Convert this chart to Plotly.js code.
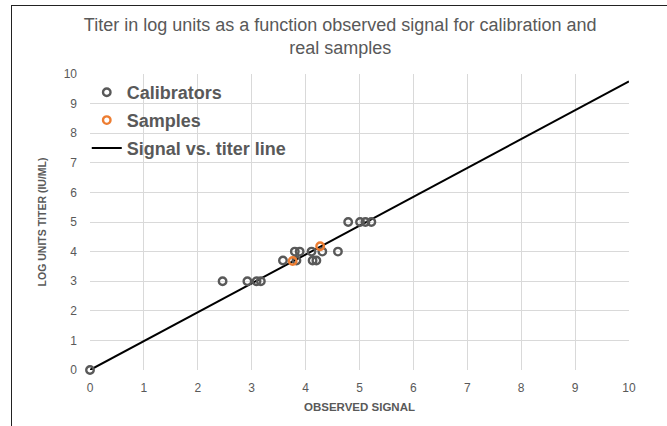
<!DOCTYPE html>
<html>
<head>
<meta charset="utf-8">
<script src="https://cdn.plot.ly/plotly-3.0.1.min.js"></script>
<style>
  html, body { margin: 0; padding: 0; background: #fff; }
  #wrap { position: relative; width: 667px; height: 426px; overflow: hidden; }
  #chart { position: absolute; left: 0; top: 0; width: 667px; height: 426px; }
  #frame { position: absolute; left: 11px; top: 5px; width: 700px; height: 500px;
           border-left: 1.5px solid #222; border-top: 1.5px solid #222; pointer-events: none; }
</style>
</head>
<body>
<div id="wrap">
  <div id="chart"></div>
  <div id="frame"></div>
</div>
<script>
// Calibrators (observed signal, log titer)
const calibratorX = [0, 2.46, 2.92, 3.09, 3.17, 3.58, 3.83, 3.80, 3.89, 4.11, 4.13, 4.20, 4.31, 4.60, 4.79, 5.01, 5.11, 5.22];
const calibratorY = [0, 3, 3, 3, 3, 3.7, 3.7, 4, 4, 4, 3.7, 3.7, 4, 4, 5, 5, 5, 5];
// Real samples
const sampleX = [3.76, 4.27];
const sampleY = [3.68, 4.18];
// Signal vs. titer line
const lineX = [0, 10];
const lineY = [0, 9.75];

const seriesNames = ["Calibrators", "Samples", "Signal vs. titer line"];
const tickVals = [0, 1, 2, 3, 4, 5, 6, 7, 8, 9, 10];

const gray = "#595959";
const font = "Liberation Sans, Arial, sans-serif";

const traces = [
  {
    x: lineX, y: lineY, type: "scatter", mode: "lines", name: seriesNames[2],
    line: { color: "#000000", width: 2 }, showlegend: false, hoverinfo: "skip"
  },
  {
    x: calibratorX, y: calibratorY, type: "scatter", mode: "markers", name: seriesNames[0],
    legendgroup: "a",
    marker: { symbol: "circle-open", size: 7.5, color: gray, line: { width: 2.4, color: gray } },
    cliponaxis: false
  },
  {
    x: sampleX, y: sampleY, type: "scatter", mode: "markers", name: seriesNames[1],
    legendgroup: "b",
    marker: { symbol: "circle-open", size: 7.5, color: "#ED7D31", line: { width: 2.4, color: "#ED7D31" } },
    cliponaxis: false
  },
  {
    x: [null], y: [null], type: "scatter", mode: "lines", name: seriesNames[2],
    legendgroup: "c",
    line: { color: "#000000", width: 2 }
  }
];

const axisCommon = {
  range: [0, 10], tickvals: tickVals, ticktext: tickVals.map(String),
  showgrid: true, gridcolor: "#d9d9d9", gridwidth: 1,
  zeroline: false, showline: false, ticks: "",
  tickfont: { family: font, size: 12, color: gray }, fixedrange: true
};

const layout = {
  width: 667, height: 426,
  margin: { l: 90, r: 38, t: 74, b: 56 },
  paper_bgcolor: "#ffffff", plot_bgcolor: "#ffffff",
  title: {
    text: "Titer in log units as a function observed signal for calibration and<br>real samples",
    font: { family: font, size: 18, color: gray },
    x: 0.51, xanchor: "center", y: 0.928, yanchor: "top"
  },
  xaxis: Object.assign({}, axisCommon, {
    title: { text: "<b>OBSERVED SIGNAL</b>", font: { family: font, size: 11.5, color: gray }, standoff: 8 },
    ticklabelstandoff: 9
  }),
  yaxis: Object.assign({}, axisCommon, {
    title: { text: "<b>LOG UNITS TITER (IU/ML)</b>", font: { family: font, size: 10.5, color: gray }, standoff: 14 },
    ticklabelstandoff: 12
  }),
  showlegend: true,
  legend: {
    x: -0.006, y: 1.0, xanchor: "left", yanchor: "top",
    bgcolor: "rgba(0,0,0,0)", borderwidth: 0,
    font: { family: font, size: 18, color: gray, weight: "bold" },
    itemwidth: 30, tracegroupgap: 1.5, traceorder: "grouped"
  }
};

Plotly.newPlot("chart", traces, layout, { displayModeBar: false, staticPlot: true });
</script>
</body>
</html>
